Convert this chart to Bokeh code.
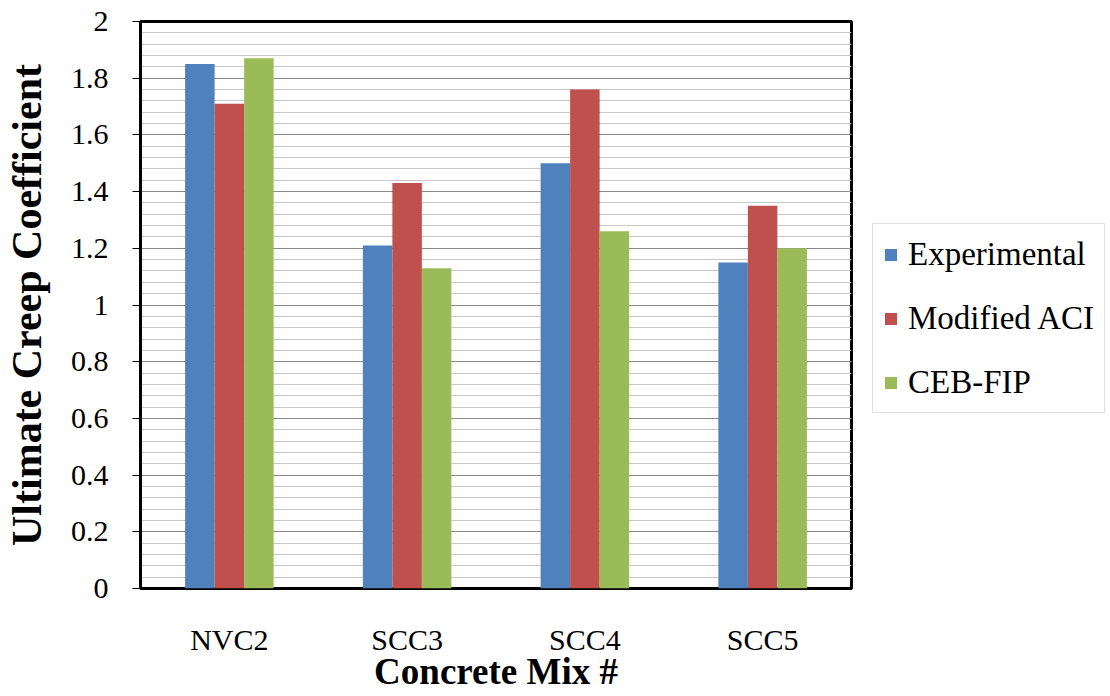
from bokeh.plotting import figure
from bokeh.models import ColumnDataSource, FactorRange, Legend, LegendItem, FixedTicker, Range1d
from bokeh.transform import dodge
from bokeh.embed import file_html
from bokeh.resources import INLINE

mixes = ["NVC2", "SCC3", "SCC4", "SCC5"]
experimental = [1.85, 1.21, 1.50, 1.15]
modified_aci = [1.71, 1.43, 1.76, 1.35]
ceb_fip = [1.87, 1.13, 1.26, 1.20]
series_names = ["Experimental", "Modified ACI", "CEB-FIP"]
colors = ["#4F81BD", "#C0504D", "#9BBB59"]
y_ticks = [0, 0.2, 0.4, 0.6, 0.8, 1.0, 1.2, 1.4, 1.6, 1.8, 2.0]
y_tick_labels = ["0", "0.2", "0.4", "0.6", "0.8", "1", "1.2", "1.4", "1.6", "1.8", "2"]
y_minor = [round(i * 0.04, 2) for i in range(51)]

FONT = "Liberation Serif"

src = ColumnDataSource(dict(mix=mixes, exp=experimental, aci=modified_aci, ceb=ceb_fip))

p = figure(x_range=FactorRange(factors=mixes, range_padding=0), y_range=Range1d(0, 2),
           frame_width=711, frame_height=567, output_backend="svg", toolbar_location=None,
           min_border_left=138, min_border_top=21, min_border_right=0, min_border_bottom=0)

bw = 0.166
cols = ["exp", "aci", "ceb"]
offsets = [-bw, 0, bw]
renderers = []
for c, off, col in zip(cols, offsets, colors):
    r = p.vbar(x=dodge("mix", off, range=p.x_range), top=c, width=bw, source=src,
               fill_color=col, line_color=None)
    renderers.append(r)

legend = Legend(items=[LegendItem(label=n, renderers=[r]) for n, r in zip(series_names, renderers)],
                location=(21, 175), orientation="vertical")
legend.label_text_font = FONT
legend.label_text_font_size = "33px"
legend.label_text_color = "black"
legend.glyph_width = 15
legend.glyph_height = 15
legend.label_height = 40
legend.label_standoff = 10
legend.spacing = 24
legend.padding = 10
legend.margin = 0
legend.border_line_color = "#c0c0c0"
legend.background_fill_color = "white"
legend.background_fill_alpha = 1
p.add_layout(legend, "right")

p.outline_line_color = "black"
p.outline_line_width = 3

p.xgrid.grid_line_color = None
p.yaxis.ticker = FixedTicker(ticks=y_ticks, minor_ticks=y_minor)
p.yaxis.major_label_overrides = dict(zip(y_ticks, y_tick_labels))
p.ygrid.grid_line_color = "#8a8a8a"
p.ygrid.minor_grid_line_color = "#c8c8c8"

p.yaxis.axis_label = "Ultimate Creep Coefficient"
p.xaxis.axis_label = "Concrete Mix #"
for ax in (p.xaxis, p.yaxis):
    ax.axis_label_text_font = FONT
    ax.axis_label_text_font_style = "bold"
    ax.axis_label_text_color = "black"
    ax.major_label_text_font = FONT
    ax.major_label_text_font_size = "30px"
    ax.major_label_text_color = "black"
    ax.minor_tick_line_color = None

p.yaxis.axis_label_text_font_size = "42px"
p.xaxis.axis_label_text_font_size = "37px"
p.yaxis.major_tick_out = 8
p.yaxis.major_tick_in = 0
p.yaxis.major_tick_line_color = "black"
p.yaxis.major_label_standoff = 24
p.yaxis.axis_line_color = "black"
p.yaxis.axis_line_width = 3
p.yaxis.axis_label_standoff = 18

p.xaxis.major_tick_line_color = None
p.xaxis.major_tick_out = 0
p.xaxis.axis_line_color = None
p.xaxis.major_label_standoff = 34
p.xaxis.axis_label_standoff = -8

open("out.html", "w").write(file_html(p, INLINE))
